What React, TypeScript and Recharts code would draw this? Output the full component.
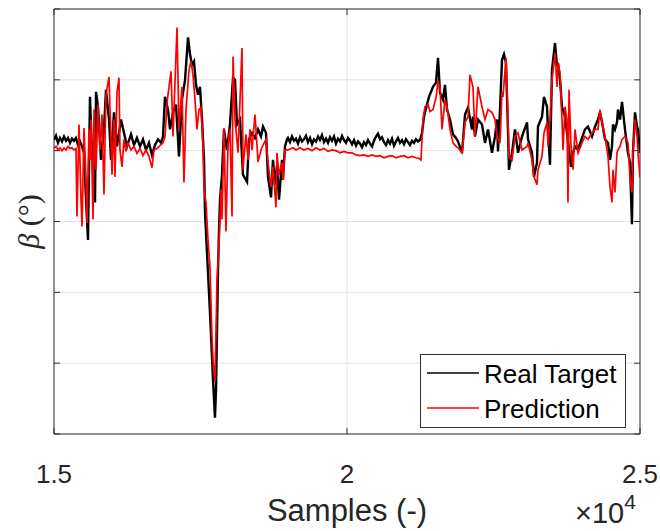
import { LineChart, Line, XAxis, YAxis, CartesianGrid, ReferenceArea, Legend, Label } from 'recharts';

// Real target: sample index and beta (deg)
const realSamples = [
  15000, 15034, 15068, 15102, 15137, 15171, 15205, 15239, 15273, 15307, 15341, 15375, 15410, 15444, 15478, 15512,
  15546, 15580, 15614, 15648, 15700, 15717, 15751, 15802, 15853, 15887, 15939, 15973, 16024, 16075, 16143, 16195,
  16246, 16314, 16365, 16416, 16468, 16519, 16570, 16621, 16672, 16724, 16775, 16826, 16860, 16894, 16945, 16980,
  17031, 17082, 17133, 17184, 17236, 17287, 17321, 17355, 17389, 17423, 17457, 17491, 17526, 17560, 17577, 17611,
  17662, 17696, 17713, 17747, 17765, 17782, 17799, 17816, 17833, 17867, 17901, 17952, 18003, 18055, 18089, 18123,
  18174, 18225, 18294, 18328, 18379, 18430, 18481, 18532, 18567, 18618, 18652, 18703, 18737, 18771, 18805, 18840,
  18891, 18908, 18942, 18976,
  18993, 19027, 19061, 19095, 19130, 19164, 19198, 19232, 19266, 19300, 19334, 19369, 19403, 19437, 19471, 19505,
  19539, 19573, 19608, 19642, 19676, 19710, 19744, 19778, 19812, 19846, 19881, 19915, 19949, 19983, 20017, 20051,
  20086, 20120, 20154, 20188, 20222, 20256, 20290, 20324, 20359, 20393, 20427, 20461, 20495, 20529, 20563, 20597,
  20632, 20666, 20700, 20734, 20768, 20802, 20836, 20870, 20904, 20939, 20973, 21007, 21041, 21075, 21109, 21143,
  21177, 21212, 21246,
  21280, 21314, 21365, 21399, 21468, 21519, 21553, 21587, 21638, 21672, 21707, 21758, 21809, 21860, 21894, 21963,
  22014, 22065, 22133, 22150, 22184, 22236, 22304, 22355, 22406, 22474, 22526, 22560, 22577, 22611, 22645, 22679,
  22713, 22747, 22764, 22816, 22867, 22918, 22986, 23072, 23089, 23157, 23191, 23242, 23259, 23328, 23362, 23413,
  23430, 23464, 23498, 23550, 23584, 23601, 23635, 23669, 23720, 23754, 23823, 23857, 23891, 23942, 24010, 24061,
  24112, 24181, 24232, 24283, 24317, 24352, 24403, 24454, 24488, 24522, 24539, 24573, 24607, 24625, 24659, 24693,
  24744, 24795, 24829, 24863, 24880, 24915, 24949, 24966, 25000,
];
const realBeta = [
  0.15, 0.21, 0.11, 0.18, 0.13, 0.2, 0.14, 0.18, 0.11, 0.17, 0.14, 0.18, 0.08, 0.13, 0.06, -0.03,
  -0.69, -1.26, 0.76, -0.03, -0.73, 0.83, 0.62, -0.13, 0.3, 0.86, 0.44, -0.13, 0.54, 0.06, 0.44, 0.25,
  0.06, 0.23, 0.08, 0.18, 0.06, 0.16, 0.01, 0.11, -0.06, 0.08, 0.16, 0.11, 0.2, 0.76, 0.58, 0.3,
  0.54, 0.65, -0.08, 0.72, 1.0, 1.6, 1.36, 1.21, 1.26, 0.93, 0.79, 0.9, 0.44, -0.13, -0.88, -1.44,
  -2.29, -2.91, -3.23, -3.77, -3.37, -2.53, -1.68, -1.12, -0.69, -0.34, 0.3, 0.01, 0.37, 1.03, 1.0, 0.37,
  0.44, -0.34, -0.44, 0.16, 0.25, 0.18, 0.3, 0.2, 0.34, 0.25, -0.37, -0.66, -0.13, -0.48, -0.21, -0.69,
  -0.13, -0.41, 0.06, 0.16,
  0.18, 0.12, 0.2, 0.14, 0.17, 0.1, 0.19, 0.13, 0.16, 0.21, 0.12, 0.18, 0.09, 0.16, 0.13, 0.2,
  0.15, 0.22, 0.12, 0.17, 0.11, 0.19, 0.14, 0.2, 0.1, 0.17, 0.13, 0.21, 0.15, 0.11, 0.18, 0.14,
  0.09, 0.15, 0.07, 0.13, 0.1, 0.05, 0.12, 0.08, 0.15, 0.1, 0.06, 0.14, 0.2, 0.24, 0.16, 0.19,
  0.12, 0.08, 0.15, 0.1, 0.17, 0.07, 0.13, 0.18, 0.11, 0.15, 0.09, 0.16, 0.12, 0.08, 0.14, 0.11,
  0.16, 0.13, 0.15,
  0.25, 0.48, 0.65, 0.76, 0.9, 0.96, 1.31, 0.82, 0.72, 0.93, 0.58, 0.44, 0.23, 0.18, 0.13, -0.03,
  0.51, 0.61, 0.3, 0.48, 0.2, 0.44, 0.37, 0.11, 0.3, -0.03, 0.2, 0.44, -0.01, 0.58, 1.28, 1.36,
  1.24, 0.3, -0.27, -0.03, 0.3, -0.03, 0.2, 0.4, 0.16, -0.03, -0.37, -0.17, 0.34, 0.48, 0.76, 0.62,
  0.3, -0.2, 1.14, 1.52, 1.19, 1.24, 1.0, 0.62, 0.48, 0.25, -0.23, -0.03, 0.06, 0.01, 0.18, 0.3,
  0.34, 0.2, 0.34, 0.44, 0.54, 0.4, 0.16, 0.11, -0.13, 0.06, 0.37, 0.3, 0.4, 0.58, 0.44, 0.69,
  0.3, -0.03, -0.17, -1.04, -0.03, 0.54, 0.34, 0.3, -0.03,
];

// Prediction
const predSamples = [
  15000, 15034, 15068, 15102, 15137, 15171, 15205, 15239, 15273, 15307, 15341, 15375, 15392, 15427, 15461, 15478,
  15512, 15546, 15563, 15597, 15614, 15631, 15666, 15683, 15717, 15751, 15785, 15819, 15853, 15887, 15939, 15973,
  15990, 16024, 16041, 16075, 16109, 16126, 16160, 16195, 16229, 16263, 16314, 16365, 16416, 16468, 16519, 16570,
  16621, 16672, 16707, 16758, 16809, 16860, 16894, 16928, 16997, 17031, 17099, 17133, 17184, 17218, 17253, 17304,
  17338, 17372, 17406, 17440, 17474, 17509, 17543, 17560, 17594, 17628, 17662, 17696, 17713, 17747, 17765, 17782,
  17799, 17833, 17850, 17867, 17901, 17935, 17969, 18003, 18038, 18055, 18089, 18140, 18208, 18225, 18276, 18311,
  18345, 18379, 18430, 18464, 18481, 18532, 18567, 18618, 18652, 18703, 18737, 18788, 18805, 18840, 18891, 18908,
  18942, 18993, 19078, 19130, 19198, 19266, 19334, 19403, 19471, 19539, 19608, 19676, 19744, 19812, 19881, 19949,
  20017, 20086, 20154, 20222, 20290, 20359, 20427, 20495, 20563, 20632, 20700, 20768, 20836, 20904, 20973, 21041,
  21109, 21177, 21229, 21263, 21297, 21331, 21382, 21416, 21468, 21519, 21553, 21587, 21621, 21672, 21707, 21758,
  21809, 21860, 21894, 21963, 22014, 22065, 22099, 22150, 22184, 22236, 22304, 22355, 22406, 22474, 22526, 22560,
  22611, 22645, 22662, 22713, 22747, 22764, 22816, 22867, 22918, 22986, 23072, 23089, 23157, 23191, 23242, 23259,
  23328, 23362, 23413, 23430, 23464, 23498, 23550, 23584, 23601, 23635, 23669, 23686, 23720, 23754, 23771, 23789,
  23823, 23857, 23891, 23942, 24010, 24061, 24112, 24181, 24232, 24283, 24317, 24352, 24403, 24454, 24488, 24522,
  24539, 24573, 24607, 24625, 24659, 24693, 24744, 24795, 24829, 24863, 24880, 24915, 24949, 24966, 25000,
];
const predBeta = [
  0.03, 0.06, 0.01, 0.04, 0.0, 0.04, 0.01, 0.06, 0.03, 0.04, 0.01, 0.03, -0.93, 0.37, -0.69, -1.07,
  0.32, -0.41, -1.02, 0.3, -0.13, 0.44, -0.97, 0.58, -0.27, 0.65, 0.01, 0.51, -0.62, 0.79, 1.04, 0.16,
  -0.34, 0.44, -0.37, 0.82, 1.03, 0.01, -0.23, 0.16, -0.01, 0.11, 0.01, 0.06, -0.04, 0.03, -0.07, 0.01,
  -0.08, -0.24, 0.01, 0.03, 0.07, 0.11, 0.2, 0.68, 1.12, 0.2, 1.74, 0.3, 0.9, -0.45, 0.58, 1.14,
  1.26, 1.07, 0.72, 0.3, 0.58, 0.61, 0.06, -0.55, -0.73, -1.26, -1.64, -2.63, -2.95, -3.26, -2.53, -1.82,
  -1.58, -0.97, -0.55, -0.97, 0.32, -1.14, 0.08, 0.3, -0.93, 1.33, 0.44, -0.03, 1.45, -0.27, 0.23, -0.13,
  0.3, 0.01, 0.51, 0.08, -0.16, 0.01, 0.08, 0.16, -0.17, -0.51, -0.23, -0.8, -0.03, -0.34, -0.17, -0.41,
  0.01, 0.01, 0.04, 0.01, 0.04, 0.01, 0.03, 0.0, 0.04, 0.01, 0.03, -0.01, 0.01, 0.0, -0.03, -0.01,
  -0.03, -0.03, -0.06, -0.07, -0.06, -0.08, -0.06, -0.08, -0.07, -0.1, -0.08, -0.07, -0.1, -0.08, -0.07, -0.1,
  -0.08, -0.1, -0.11, -0.13, 0.44, 0.62, 0.65, 0.55, 0.58, 0.75, 0.97, 0.9, 0.3, 0.72, 0.62, 0.3,
  0.11, 0.06, 0.04, -0.03, 0.4, 0.48, 1.07, 0.9, 0.2, 0.9, 0.62, 0.44, 0.58, 0.54, 0.44, 0.2,
  0.11, 0.83, 0.76, 1.31, 0.44, -0.08, -0.13, 0.2, 0.25, 0.01, 0.06, 0.11, -0.13, -0.37, -0.48, -0.27,
  -0.08, 0.25, 0.4, 0.06, 0.44, 1.0, 1.38, 0.9, 1.24, 1.1, 0.44, 0.01, 0.62, 0.44, -0.73, 0.86,
  0.06, -0.27, 0.3, -0.03, 0.11, 0.2, 0.16, 0.25, 0.3, 0.3, 0.58, 0.4, 0.2, -0.08, -0.51, -0.73,
  -0.27, -0.59, -0.03, 0.01, 0.06, 0.16, 0.2, 0.11, -0.37, -0.59, -0.03, 0.44, 0.2, -0.03, -0.38,
];

const xTicks = [15000, 20000, 25000];
const xTickLabels = ['1.5', '2', '2.5'];
const yTicks = [-4, -3, -2, -1, 0, 1, 2];
const seriesNames = ['Real Target', 'Prediction'];
const seriesColors = ['#000000', '#ff0000'];

const realData = realSamples.map((s, i) => ({ sample: s, beta: realBeta[i] }));
const predData = predSamples.map((s, i) => ({ sample: s, beta: predBeta[i] }));

const FONT = '"Liberation Sans", Arial, Helvetica, sans-serif';
const AXIS = '#303030';
const TEXT = '#262626';
const PLOT = { left: 54, right: 640, top: 9, bottom: 434 };
const TICK_LEN = 6;

function YTick(props: any) {
  const { y } = props;
  return (
    <g>
      <line x1={PLOT.left} x2={PLOT.left + TICK_LEN} y1={y} y2={y} stroke={AXIS} />
      <line x1={PLOT.right - TICK_LEN} x2={PLOT.right} y1={y} y2={y} stroke={AXIS} />
    </g>
  );
}

function XTick(props: any) {
  const { x, payload } = props;
  const idx = xTicks.indexOf(payload.value);
  return (
    <g>
      <line x1={x} x2={x} y1={PLOT.bottom} y2={PLOT.bottom - TICK_LEN} stroke={AXIS} />
      <line x1={x} x2={x} y1={PLOT.top} y2={PLOT.top + TICK_LEN} stroke={AXIS} />
      <text x={x} y={PLOT.bottom + 49} textAnchor="middle" fontFamily={FONT} fontSize={26} fill={TEXT}>
        {idx >= 0 ? xTickLabels[idx] : ''}
      </text>
    </g>
  );
}

function XLabel() {
  return (
    <g fontFamily={FONT} fill={TEXT}>
      <text x={(PLOT.left + PLOT.right) / 2} y={521} textAnchor="middle" fontSize={31}>
        Samples (-)
      </text>
      <text x={575} y={523} fontSize={29}>
        ×10
        <tspan dy={-14} fontSize={21}>4</tspan>
      </text>
    </g>
  );
}

function YLabel() {
  const cx = 28;
  const cy = (PLOT.top + PLOT.bottom) / 2;
  return (
    <text
      x={cx}
      y={cy}
      transform={`rotate(-90, ${cx}, ${cy})`}
      textAnchor="middle"
      dominantBaseline="central"
      fontFamily='"Liberation Serif", "DejaVu Serif", serif'
      fontSize={30}
      fill={TEXT}>
      <tspan fontStyle="italic">β</tspan>
      <tspan> (°)</tspan>
    </text>
  );
}

function LegendBox() {
  return (
    <svg width={206} height={74} style={{ display: 'block' }}>
      <rect x={0.5} y={0.5} width={205} height={73} fill="#fff" stroke={AXIS} />
      {seriesNames.map((name, i) => (
        <g key={name}>
          <line x1={7} x2={59} y1={19 + i * 35} y2={19 + i * 35} stroke={seriesColors[i]} strokeWidth={1.5} />
          <text x={64} y={29 + i * 35} fontFamily={FONT} fontSize={26} fill="#000">
            {name}
          </text>
        </g>
      ))}
    </svg>
  );
}

export default function App() {
  return (
    <div style={{ position: 'absolute', left: 0, top: 0, width: 660, height: 531, background: '#fff' }}>
      <LineChart width={660} height={531} margin={{ top: 9, right: 20, bottom: 0, left: 0 }}>
        <CartesianGrid stroke="#e3e3e3" strokeWidth={1} />
        <XAxis
          dataKey="sample"
          type="number"
          domain={[15000, 25000]}
          ticks={xTicks}
          allowDataOverflow
          height={97}
          tickLine={false}
          axisLine={false}
          tick={XTick}
          interval={0}>
          <Label content={XLabel} />
        </XAxis>
        <YAxis
          type="number"
          domain={[-4, 2]}
          ticks={yTicks}
          allowDataOverflow
          width={54}
          tickLine={false}
          axisLine={false}
          tick={YTick}
          interval={0}>
          <Label content={YLabel} />
        </YAxis>
        <Line
          data={realData}
          dataKey="beta"
          name={seriesNames[0]}
          type="linear"
          stroke={seriesColors[0]}
          strokeWidth={2.4}
          dot={false}
          isAnimationActive={false}
        />
        <Line
          data={predData}
          dataKey="beta"
          name={seriesNames[1]}
          type="linear"
          stroke={seriesColors[1]}
          strokeWidth={1.7}
          dot={false}
          isAnimationActive={false}
        />
        <ReferenceArea x1={15000} x2={25000} y1={-4} y2={2} fill="none" stroke={AXIS} strokeWidth={1} ifOverflow="extendDomain" />
        <Legend
          layout="horizontal"
          verticalAlign="middle"
          align="center"
          wrapperStyle={{ left: 420, top: 354, width: 206, height: 74 }}
          content={LegendBox}
        />
      </LineChart>
    </div>
  );
}
